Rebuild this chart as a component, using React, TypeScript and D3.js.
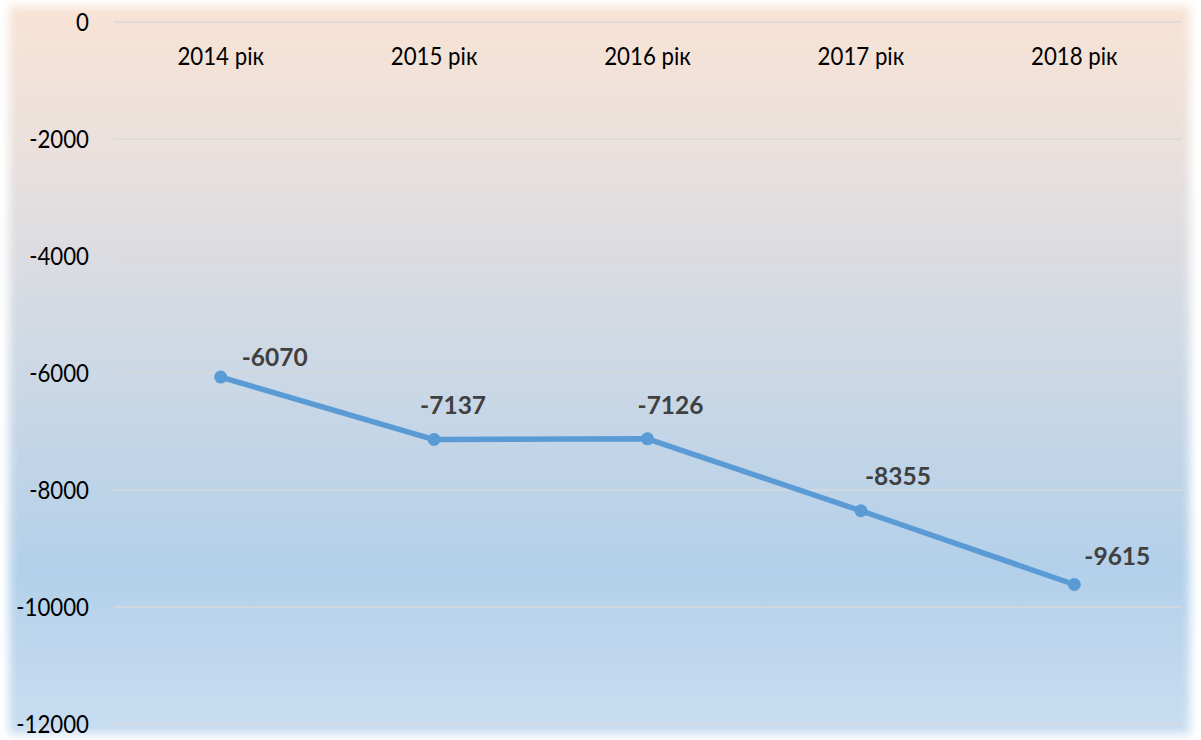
import React from "react";
import * as d3 from "d3";

const categories = ["2014 рік", "2015 рік", "2016 рік", "2017 рік", "2018 рік"];
const values = [-6070, -7137, -7126, -8355, -9615];
const yTicks = [0, -2000, -4000, -6000, -8000, -10000, -12000];
// label offsets relative to the point (style, not data)
const labelDx = [21, -14, -10, 4, 10];
const labelDy = [-20, -34, -33, -34, -28];

const W = 1201;
const H = 740;
const margin = { left: 114, right: 20, top: 22, bottom: 16 };

export default function App() {
  const x = d3
    .scaleBand<string>()
    .domain(categories)
    .range([margin.left, 1181])
    .paddingInner(0)
    .paddingOuter(0);
  const y = d3.scaleLinear().domain([0, -12000]).range([22, 724]);
  const cx = (c: string) => (x(c) as number) + x.bandwidth() / 2;
  const pts: [number, number][] = values.map((v, i) => [cx(categories[i]), y(v)]);
  const line = d3.line()(pts) as string;

  const font = "Lato, 'Open Sans', sans-serif";
  const sx = 0.89;

  return (
    <div style={{ position: "fixed", left: 0, top: 0 }}>
      <svg width={W} height={H} style={{ display: "block", background: "#fff" }}>
        <defs>
          <linearGradient id="bg" x1="0" y1="0" x2="0" y2="1">
            <stop offset="0%" stopColor="#f8e3d5" />
            <stop offset="20%" stopColor="#e9e0dd" />
            <stop offset="50%" stopColor="#ccd8e5" />
            <stop offset="78%" stopColor="#b3d0ea" />
            <stop offset="100%" stopColor="#c8ddf1" />
          </linearGradient>
          <filter id="soft" x="-5%" y="-5%" width="110%" height="110%">
            <feGaussianBlur stdDeviation="5" />
          </filter>
        </defs>
        <rect x={9} y={6} width={1181} height={728} fill="url(#bg)" filter="url(#soft)" />
        <rect x={18} y={12} width={1163} height={716} fill="url(#bg)" />

        {yTicks.map((t) => (
          <g key={t}>
            <line
              x1={margin.left}
              x2={1181}
              y1={y(t)}
              y2={y(t)}
              stroke="#d9d9d9"
              strokeWidth={1.5}
            />
            <text
              transform={`translate(89,${y(t)}) scale(${sx},1)`}
              dy="0.35em"
              textAnchor="end"
              fontFamily={font}
              fontSize={25}
              fill="#000"
            >
              {t}
            </text>
          </g>
        ))}

        {categories.map((c) => (
          <text
            key={c}
            transform={`translate(${cx(c)},${y(0) + 34}) scale(${sx},1)`}
            dy="0.35em"
            textAnchor="middle"
            fontFamily={font}
            fontSize={25}
            fill="#000"
          >
            {c}
          </text>
        ))}

        <path d={line} fill="none" stroke="#5b9bd5" strokeWidth={5.5} strokeLinejoin="round" strokeLinecap="round" />
        {pts.map((p, i) => (
          <circle key={i} cx={p[0]} cy={p[1]} r={6.5} fill="#5b9bd5" />
        ))}
        {pts.map((p, i) => (
          <text
            key={"l" + i}
            x={p[0] + labelDx[i]}
            y={p[1] + labelDy[i]}
            dy="0.35em"
            fontFamily={font}
            fontWeight="bold"
            fontSize={24.5}
            fill="#404040"
          >
            {values[i]}
          </text>
        ))}
      </svg>
    </div>
  );
}
